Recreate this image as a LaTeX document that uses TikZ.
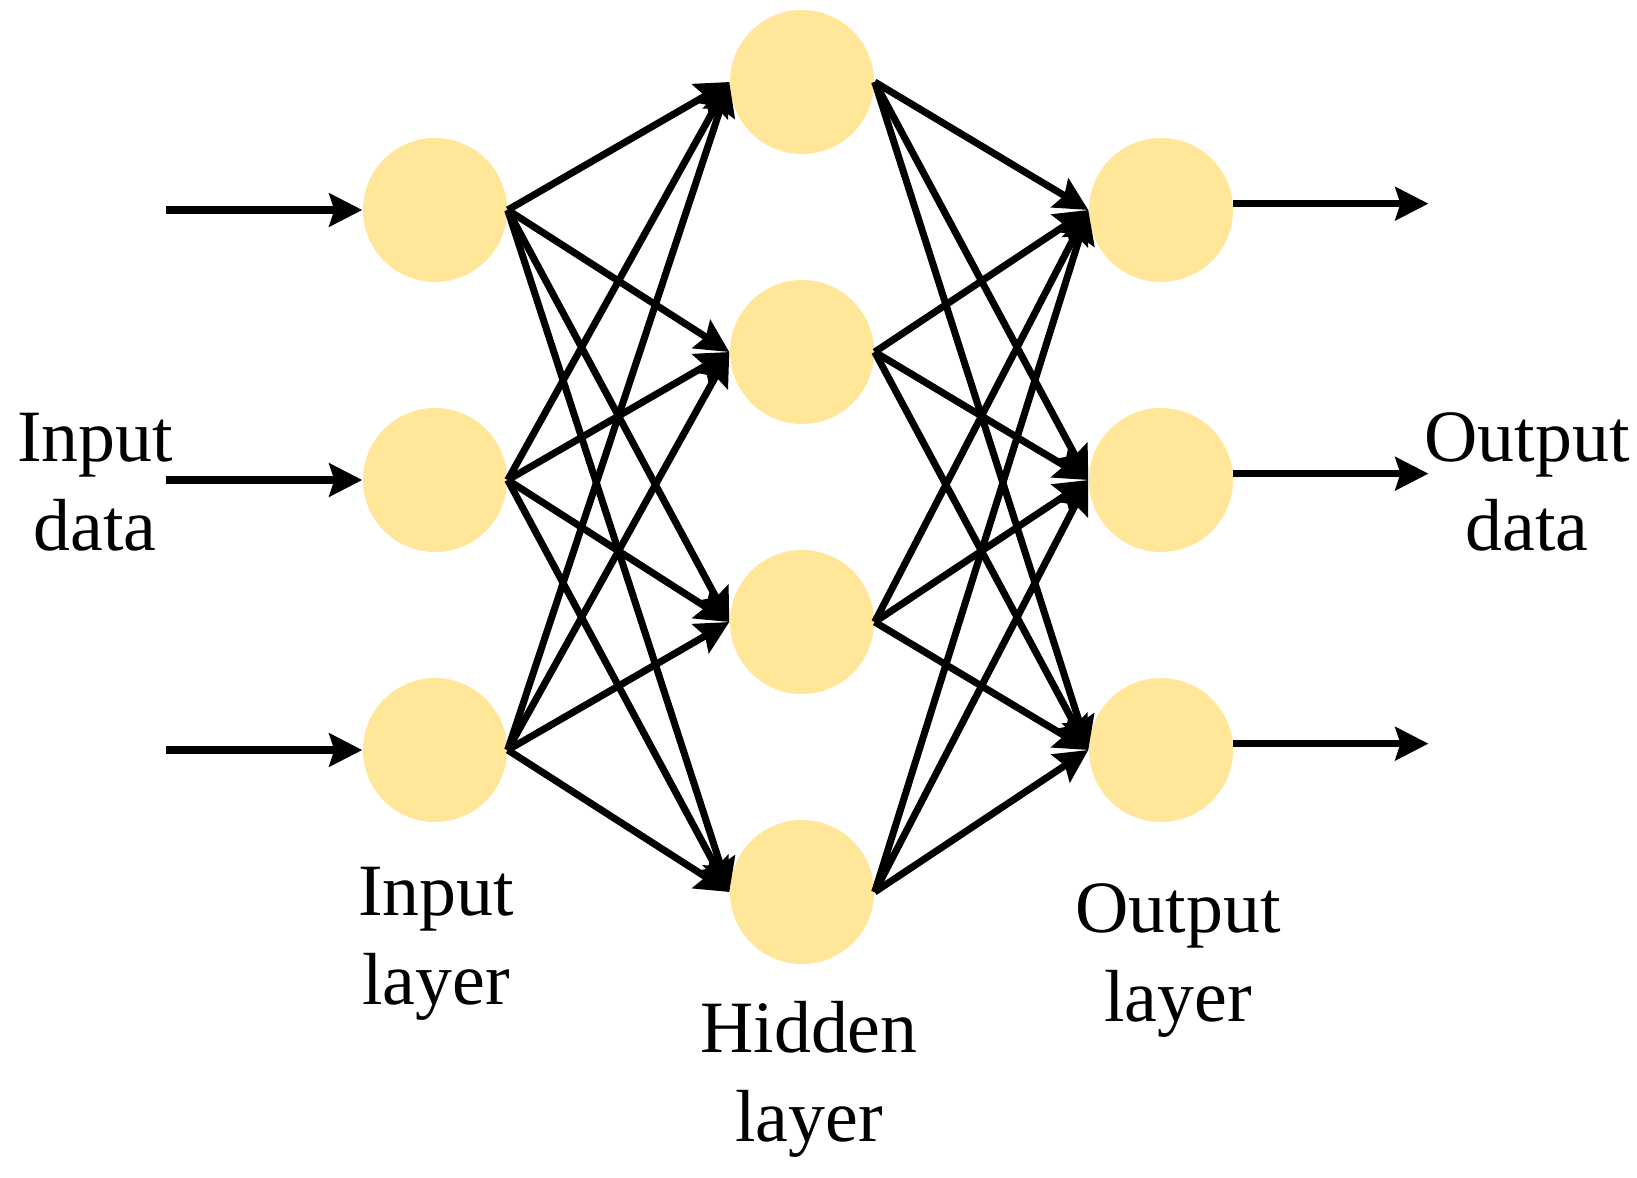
\documentclass[tikz,border=0pt]{standalone}
\usepackage{fontspec}
\setmainfont{Liberation Serif}
\usepackage{tikz}
\usetikzlibrary{arrows.meta}
\definecolor{neuronfill}{RGB}{255,230,153}

\begin{document}
\begin{tikzpicture}[
  neuron/.style={circle, fill=neuronfill, minimum size=1.44cm, inner sep=0pt},
  link/.style={line width=2pt, -{Stealth[length=0.33cm,width=0.33cm,inset=0.05cm]}},
  lbl/.style={align=center, inner sep=0pt, anchor=base, font=\fontsize{21}{25.3}\selectfont}
]
\useasboundingbox (0,0) rectangle (16.37,-11.78);

%draw input and output nodes
\foreach \i/\y in {1/-2.10,2/-4.80,3/-7.50}{
   \draw (4.35,\y) node[neuron,name=in\i] {};
   \draw (11.61,\y) node[neuron,name=out\i] {};
}
%draw hidden nodes
\foreach \j/\y in {1/-0.82,2/-3.52,3/-6.22,4/-8.92}{
   \draw (8.02,\y) node[neuron,name=hid\j] {};
}

%draw connections
\foreach \i in {1,2,3}{
   \foreach \j in {1,2,3,4}{
      \draw[link] (in\i.east) -- (hid\j.west);
      \draw[link] (hid\j.east) -- (out\i.west);
   }
}

%draw data arrows
\foreach \i in {1,2,3}{
   \coordinate (src\i) at ([xshift=-1.96cm]in\i.west);
   \coordinate (dst\i) at ([xshift=1.95cm]out\i.5);
   \draw[link] (src\i) -- (in\i.west);
   \draw[link] (out\i.5) -- (dst\i);
}

%draw labels
\draw (0.95,-5.50) node[lbl,name=indata] {Input\\data};
\draw (15.27,-5.50) node[lbl,name=outdata] {Output\\data};
\draw (4.36,-10.04) node[lbl,name=inlayer] {Input\\layer};
\draw (8.09,-11.41) node[lbl,name=hidlayer] {Hidden\\layer};
\draw (11.78,-10.21) node[lbl,name=outlayer] {Output\\layer};
\end{tikzpicture}
\end{document}
